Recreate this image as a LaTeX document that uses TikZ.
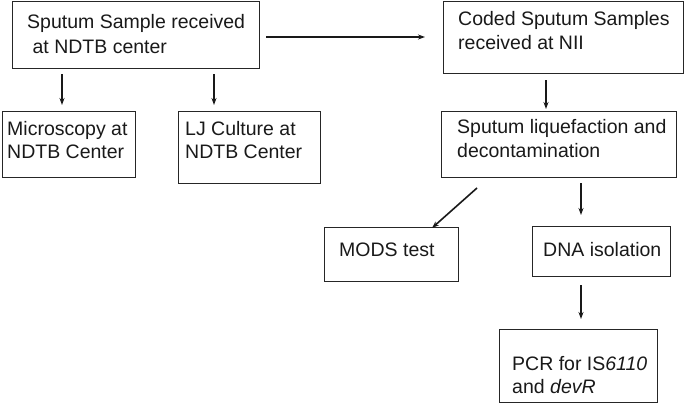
\documentclass[tikz,border=0pt]{standalone}
\usepackage{fontspec}
\setmainfont{Liberation Sans}
\usetikzlibrary{arrows.meta}
\begin{document}
\begin{tikzpicture}[x=1pt,y=-1pt,
  boxstyle/.style={draw=black!85,line width=0.9pt},
  lbl/.style={anchor=base west,inner sep=0pt,font=\fontsize{19.5}{23.5}\selectfont,text=black!90},
  arr/.style={draw=black!90,line width=1.6pt,-{Stealth[length=7pt,width=5pt]}}]
\useasboundingbox (0,0) rectangle (685,404);
% boxes
\draw[boxstyle] (12,1) rectangle (259,68);
\draw[boxstyle] (443,1) rectangle (683,73);
\draw[boxstyle] (2,111) rectangle (135,177);
\draw[boxstyle] (178,111) rectangle (320,183);
\draw[boxstyle] (441,111) rectangle (676,177);
\draw[boxstyle] (324,227) rectangle (458,281);
\draw[boxstyle] (532,226) rectangle (670,276);
\draw[boxstyle] (499,329) rectangle (657,402);
% texts
\node[lbl] (tA1) at (27,29) {Sputum Sample received};
\node[lbl] (tA2) at (27,53) {\ at NDTB center};
\node[lbl] (tB1) at (458,26) {Coded Sputum Samples};
\node[lbl] (tB2) at (458,49) {received at NII};
\node[lbl] (tC1) at (7,135) {Microscopy at};
\node[lbl] (tC2) at (7,158) {NDTB Center};
\node[lbl] (tD1) at (185,135) {LJ Culture at};
\node[lbl] (tD2) at (185,158) {NDTB Center};
\node[lbl] (tE1) at (457,133) {Sputum liquefaction and};
\node[lbl] (tE2) at (457,157) {decontamination};
\node[lbl] (tF) at (339,256) {MODS test};
\node[lbl] (tG) at (543,256) {DNA isolation};
\node[lbl] (tH1) at (512,370) {PCR for IS\textit{6110}};
\node[lbl] (tH2) at (512,393) {and \textit{devR}};
% arrow end points
\coordinate (a1) at (266,37); \coordinate (a2) at (425,37);
\coordinate (c1) at (62,74);  \coordinate (c2) at (62,105);
\coordinate (d1) at (214,74); \coordinate (d2) at (214,105);
\coordinate (e1) at (546,80); \coordinate (e2) at (546,109);
\coordinate (f1) at (477,188); \coordinate (f2) at (432,228);
\coordinate (g1) at (581,183); \coordinate (g2) at (581,215);
\coordinate (h1) at (581,285); \coordinate (h2) at (581,319);
\draw[arr] (a1) -- (a2);
\draw[arr] (c1) -- (c2);
\draw[arr] (d1) -- (d2);
\draw[arr] (e1) -- (e2);
\draw[arr] (f1) -- (f2);
\draw[arr] (g1) -- (g2);
\draw[arr] (h1) -- (h2);
\end{tikzpicture}
\end{document}
